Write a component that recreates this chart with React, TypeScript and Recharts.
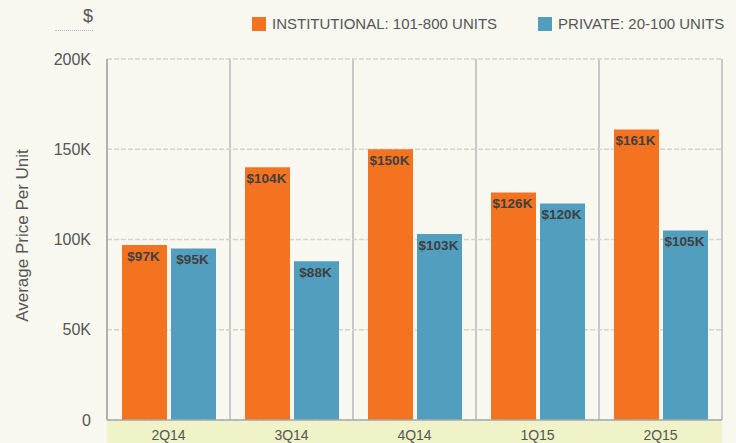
import React from 'react';
import { BarChart, Bar, XAxis, YAxis, CartesianGrid, LabelList } from 'recharts';

const categories = ['2Q14', '3Q14', '4Q14', '1Q15', '2Q15'];
const institutional = [97, 140, 150, 126, 161];
const privateUnits = [95, 88, 103, 120, 105];
const institutionalLabels = ['$97K', '$104K', '$150K', '$126K', '$161K'];
const privateLabels = ['$95K', '$88K', '$103K', '$120K', '$105K'];
const yTicks = [0, 50, 100, 150, 200];
const seriesNames = ['INSTITUTIONAL: 101-800 UNITS', 'PRIVATE: 20-100 UNITS'];

const data = categories.map((c, i) => ({
  name: c,
  inst: institutional[i],
  priv: privateUnits[i],
  instLabel: institutionalLabels[i],
  privLabel: privateLabels[i],
}));

const FONT = '"Liberation Sans", Arial, Helvetica, sans-serif';
const BG = '#f8f8f0';
const ORANGE = '#f47321';
const BLUE = '#529ebf';
const TEXT = '#555555';
const seriesColors = [ORANGE, BLUE];

const XTick = (props: any) => {
  const { x, y, payload } = props;
  const band = 615 / categories.length;
  return (
    <g>
      <rect x={x - band / 2} y={y - 7} width={band} height={30} fill="#eff3c7" />
      <text x={x} y={y + 12} textAnchor="middle" fill={TEXT} fontSize={14} fontFamily={FONT}>
        {payload.value}
      </text>
    </g>
  );
};

const YLabel = (props: any) => {
  const vb = props.viewBox || {};
  const cx = 28;
  const cy = (vb.y || 0) + (vb.height || 0) / 2 - 4;
  return (
    <text
      x={cx}
      y={cy}
      transform={`rotate(-90, ${cx}, ${cy})`}
      textAnchor="middle"
      fill={TEXT}
      fontSize={17}
      fontFamily={FONT}
    >
      Average Price Per Unit
    </text>
  );
};

export default function App() {
  return (
    <div style={{ position: 'fixed', left: 0, top: 0, width: 736, height: 443, background: BG, overflow: 'hidden' }}>
      <div
        style={{
          position: 'absolute',
          left: 55,
          top: 6,
          width: 38,
          textAlign: 'right',
          fontFamily: FONT,
          fontSize: 18,
          color: TEXT,
          borderBottom: '1px dotted #bbbbbb',
          paddingBottom: 3,
        }}
      >
        $
      </div>
      <div
        style={{
          position: 'absolute',
          left: 252,
          top: 17,
          display: 'flex',
          fontFamily: FONT,
          fontSize: 15,
          color: TEXT,
        }}
      >
        {seriesNames.map((n, i) => (
          <div key={n} style={{ display: 'flex', alignItems: 'center', marginRight: i === 0 ? 41 : 0 }}>
            <div style={{ width: 14, height: 14, background: seriesColors[i], marginRight: 6 }} />
            <span style={{ lineHeight: '14px' }}>{n}</span>
          </div>
        ))}
      </div>
      <BarChart
        width={736}
        height={443}
        data={data}
        margin={{ top: 59, right: 14, bottom: 0, left: 0 }}
        barCategoryGap={15}
        barGap={4}
      >
        <CartesianGrid
          horizontal={false}
          vertical={true}
          stroke="#a8a8a8"
          strokeWidth={1.2}
          verticalCoordinatesGenerator={({ offset }: any) =>
            categories.map((_, i) => offset.left + (i * offset.width) / categories.length).concat([offset.left + offset.width])
          }
        />
        <CartesianGrid vertical={false} horizontal={true} stroke="#d4d4cc" strokeDasharray="5 2" strokeWidth={1.3} />
        <XAxis
          dataKey="name"
          height={23}
          tickLine={false}
          axisLine={{ stroke: '#a8a8a8', strokeWidth: 1.5 }}
          tick={<XTick />}
          interval={0}
        />
        <YAxis
          width={107}
          domain={[0, 200]}
          ticks={yTicks}
          tickFormatter={(v: number) => (v === 0 ? '0' : `${v}K`)}
          tick={{ fill: TEXT, fontSize: 16, fontFamily: FONT }}
          tickLine={false}
          tickMargin={10}
          axisLine={{ stroke: '#a8a8a8', strokeWidth: 1.5 }}
          label={<YLabel />}
        />
        <Bar dataKey="inst" name={seriesNames[0]} fill={ORANGE} isAnimationActive={false}>
          <LabelList dataKey="instLabel" position="insideTop" offset={6} dx={-1} fill="#3f3f3f" fontSize={13.5} fontWeight="bold" fontFamily={FONT} />
        </Bar>
        <Bar dataKey="priv" name={seriesNames[1]} fill={BLUE} isAnimationActive={false}>
          <LabelList dataKey="privLabel" position="insideTop" offset={6} dx={-1} fill="#3f3f3f" fontSize={13.5} fontWeight="bold" fontFamily={FONT} />
        </Bar>
      </BarChart>
    </div>
  );
}
